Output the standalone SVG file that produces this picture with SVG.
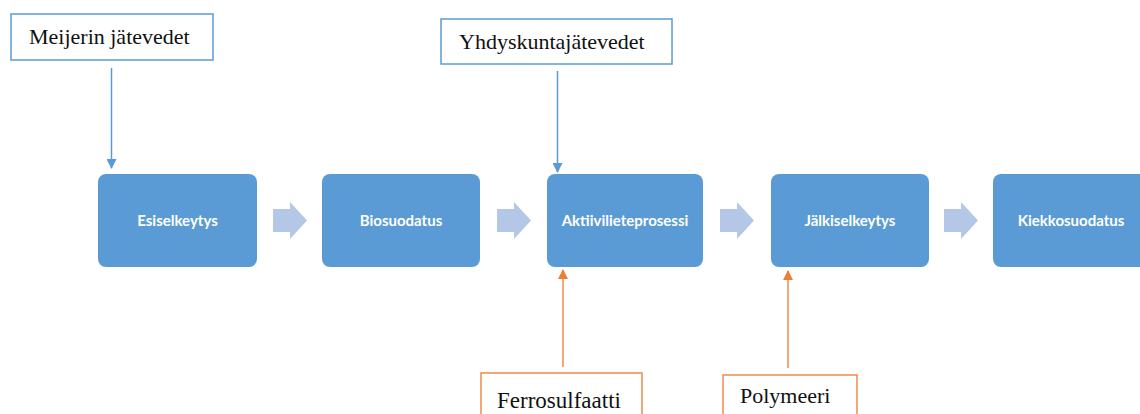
<svg xmlns="http://www.w3.org/2000/svg" width="1140" height="414" viewBox="0 0 1140 414">
<defs>
<style>
.step{fill:#5B9BD5;}
.steptext{font-family:Lato,"Open Sans",sans-serif;font-size:15px;font-weight:bold;fill:#ffffff;text-anchor:middle;}
.inbox{fill:#ffffff;stroke:#5B9BD5;stroke-width:1.5;}
.addbox{fill:#ffffff;stroke:#F08A4B;stroke-width:1.5;}
.label{font-family:"Liberation Serif",serif;font-size:22px;fill:#111111;}
.blue{stroke:#5B9BD5;stroke-width:1.5;fill:none;}
.orange{stroke:#F08A4B;stroke-width:1.5;fill:none;}
.block{fill:#B4C7E7;}
</style>
<marker id="ab" markerWidth="10" markerHeight="10" refX="9" refY="5" orient="auto" markerUnits="userSpaceOnUse">
<path d="M0,0 L10,5 L0,10 Z" fill="#5B9BD5"/>
</marker>
<marker id="ao" markerWidth="10" markerHeight="10" refX="9" refY="5" orient="auto" markerUnits="userSpaceOnUse">
<path d="M0,0 L10,5 L0,10 Z" fill="#ED7D31"/>
</marker>
</defs>
<rect width="1140" height="414" fill="#ffffff"/>

<g id="meijerin">
<rect class="inbox" x="11" y="14" width="202" height="46"/>
<text class="label" x="29" y="44">Meijerin jätevedet</text>
</g>
<g id="yhdyskunta">
<rect class="inbox" x="441" y="19" width="231" height="45"/>
<text class="label" x="459" y="49">Yhdyskuntajätevedet</text>
</g>
<g id="ferrosulfaatti">
<rect class="addbox" x="481" y="373" width="161" height="50"/>
<text class="label" x="497" y="408" style="font-size:23px">Ferrosulfaatti</text>
</g>
<g id="polymeeri">
<rect class="addbox" x="723" y="375" width="134" height="50"/>
<text class="label" x="740" y="403">Polymeeri</text>
</g>

<g id="esiselkeytys">
<rect class="step" x="98" y="174" width="159" height="93" rx="8"/>
<text class="steptext" x="177.5" y="226">Esiselkeytys</text>
</g>
<g id="biosuodatus">
<rect class="step" x="322" y="174" width="158" height="93" rx="8"/>
<text class="steptext" x="401" y="226">Biosuodatus</text>
</g>
<g id="aktiivilieteprosessi">
<rect class="step" x="547" y="174" width="156" height="93" rx="8"/>
<text class="steptext" x="625" y="226">Aktiivilieteprosessi</text>
</g>
<g id="jalkiselkeytys">
<rect class="step" x="771" y="174" width="158" height="93" rx="8"/>
<text class="steptext" x="850" y="226">Jälkiselkeytys</text>
</g>
<g id="kiekkosuodatus">
<rect class="step" x="993" y="174" width="160" height="93" rx="8"/>
<text class="steptext" x="1071" y="226">Kiekkosuodatus</text>
</g>

<g id="connectors">
<path class="block" d="M273,209 H290 V202 L307,220.5 L290,239 V232 H273 Z"/>
<path class="block" d="M497,209 H514 V202 L531,220.5 L514,239 V232 H497 Z"/>
<path class="block" d="M720,209 H737 V202 L754,220.5 L737,239 V232 H720 Z"/>
<path class="block" d="M944,209 H961 V202 L978,220.5 L961,239 V232 H944 Z"/>
<line class="blue" x1="111.5" y1="68" x2="111.5" y2="168" marker-end="url(#ab)"/>
<line class="blue" x1="557.5" y1="71" x2="557.5" y2="172" marker-end="url(#ab)"/>
<line class="orange" x1="563" y1="367" x2="563" y2="270" marker-end="url(#ao)"/>
<line class="orange" x1="788" y1="368" x2="788" y2="271" marker-end="url(#ao)"/>
</g>
</svg>
